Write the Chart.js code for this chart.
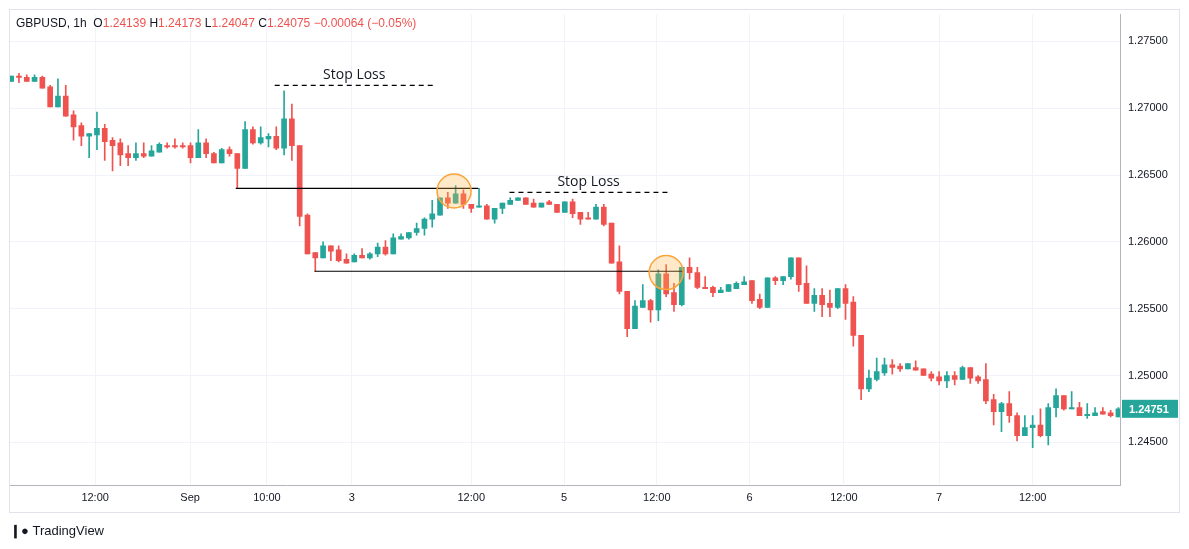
<!DOCTYPE html>
<html>
<head>
<meta charset="utf-8">
<script src="https://cdn.jsdelivr.net/npm/chart.js@4.4.0/dist/chart.umd.min.js"></script>
<style>
  body { margin: 0; background: #fff; font-family: "Liberation Sans", Arial, sans-serif; }
  #wrap { position: relative; width: 1189px; height: 549px; }
  #c { position: absolute; left: 0; top: 0; }
  #frame { position: absolute; left: 9px; top: 9px; width: 1171px; height: 504px; border: 1px solid #e0e3eb; box-sizing: border-box; }
  #legend { position: absolute; left: 16px; top: 16px; font-size: 12px; color: #131722; }
  #legend .v { color: #ef5350; }
  #logo { position: absolute; left: 10px; top: 523px; font-size: 13px; color: #131722; font-weight: bold; }
</style>
</head>
<body>
<div id="wrap">
  <div id="frame"></div>
  <canvas id="c" width="1189" height="549"></canvas>
  <div id="legend">GBPUSD, 1h&nbsp; O<span class="v">1.24139</span> H<span class="v">1.24173</span> L<span class="v">1.24047</span> C<span class="v">1.24075</span> <span class="v">&minus;0.00064 (&minus;0.05%)</span></div>
  <div id="logo">&#x2759;&#x25CF; <span style="font-weight:normal">TradingView</span></div>
</div>
<script>
// hourly candles, GBPUSD
const opens = [1.2720,1.2724,1.2723,1.2720,1.2723,1.2716,1.2701,1.2709,1.2695,1.2687,1.2679,1.2680,1.2685,1.2676,1.2674,1.2666,1.2663,1.2666,1.2664,1.2667,
  1.2672,1.2672,1.2672,1.2672,1.2663,1.2674,1.2666,1.2659,1.2669,1.2666,1.2655,1.2684,1.2674,1.2677,1.2679,1.2670,1.2692,1.2672,1.2620,1.2592,
  1.2588,1.2597,1.2594,1.2587,1.2585,1.2590,1.2588,1.2591,1.2596,1.2591,1.2602,1.2603,1.2607,1.2610,1.2617,1.2620,1.2633,1.2629,1.2636,1.2628,
  1.2626,1.2627,1.2617,1.2625,1.2628,1.2631,1.2633,1.2629,1.2626,1.2630,1.2628,1.2622,1.2630,1.2622,1.2618,1.2617,1.2626,1.2614,1.2585,1.2563,
  1.2535,1.2551,1.2556,1.2549,1.2576,1.2562,1.2553,1.2581,1.2577,1.2566,1.2566,1.2562,1.2563,1.2565,1.2568,1.2571,1.2557,1.2551,1.2573,1.2571,
  1.2574,1.2588,1.2569,1.2554,1.2560,1.2554,1.2551,1.2565,1.2555,1.2530,1.2490,1.2497,1.2502,1.2508,1.2507,1.2505,1.2506,1.2505,1.2501,1.2499,
  1.2496,1.2500,1.2497,1.2506,1.2499,1.2497,1.2482,1.2473,1.2479,1.2470,1.2455,1.2461,1.2463,1.2455,1.2476,1.2485,1.2475,1.2476,1.2470,1.2470,
  1.2473,1.2472,1.2469];
const highs = [1.2724,1.2726,1.2725,1.2725,1.2724,1.2717,1.2722,1.2717,1.2698,1.2689,1.2681,1.2697,1.2688,1.2678,1.2677,1.2672,1.2674,1.2674,1.2672,1.2674,
  1.2674,1.2677,1.2674,1.2674,1.2684,1.2677,1.2667,1.2670,1.2671,1.2666,1.2690,1.2686,1.2686,1.2681,1.2686,1.2713,1.2703,1.2672,1.2621,1.2592,
  1.2600,1.2597,1.2597,1.2591,1.2591,1.2595,1.2592,1.2599,1.2601,1.2606,1.2606,1.2607,1.2614,1.2618,1.2631,1.2633,1.2637,1.2642,1.2639,1.2628,
  1.2640,1.2628,1.2625,1.2629,1.2633,1.2633,1.2633,1.2632,1.2629,1.2631,1.2628,1.2630,1.2632,1.2622,1.2622,1.2628,1.2628,1.2614,1.2597,1.2563,
  1.2556,1.2568,1.2557,1.2579,1.2583,1.2569,1.2581,1.2588,1.2581,1.2574,1.2567,1.2566,1.2568,1.2570,1.2574,1.2571,1.2561,1.2573,1.2574,1.2574,
  1.2588,1.2588,1.2582,1.2565,1.2565,1.2564,1.2565,1.2568,1.2559,1.2530,1.2504,1.2513,1.2513,1.2512,1.2509,1.2509,1.2511,1.2505,1.2503,1.2503,
  1.2503,1.2503,1.2507,1.2506,1.2500,1.2509,1.2486,1.2480,1.2488,1.2472,1.2470,1.2470,1.2475,1.2479,1.2490,1.2485,1.2488,1.2480,1.2479,1.2476,
  1.2476,1.2474,1.2476];
const lows = [1.2720,1.2719,1.2720,1.2720,1.2715,1.2701,1.2701,1.2694,1.2676,1.2672,1.2663,1.2669,1.2661,1.2653,1.2657,1.2657,1.2661,1.2663,1.2664,1.2667,
  1.2670,1.2670,1.2670,1.2659,1.2663,1.2663,1.2659,1.2659,1.2664,1.2640,1.2655,1.2673,1.2673,1.2671,1.2669,1.2665,1.2661,1.2612,1.2591,1.2578,
  1.2588,1.2586,1.2585,1.2584,1.2585,1.2588,1.2587,1.2589,1.2590,1.2591,1.2602,1.2602,1.2605,1.2605,1.2611,1.2620,1.2625,1.2629,1.2625,1.2622,
  1.2626,1.2617,1.2614,1.2621,1.2628,1.2631,1.2628,1.2626,1.2626,1.2628,1.2622,1.2622,1.2618,1.2613,1.2617,1.2617,1.2612,1.2584,1.2561,1.2529,
  1.2535,1.2551,1.2540,1.2541,1.2559,1.2548,1.2552,1.2572,1.2565,1.2565,1.2559,1.2562,1.2563,1.2565,1.2568,1.2554,1.2550,1.2551,1.2568,1.2568,
  1.2572,1.2563,1.2554,1.2548,1.2544,1.2544,1.2550,1.2542,1.2522,1.2482,1.2488,1.2496,1.2500,1.2501,1.2503,1.2505,1.2504,1.2500,1.2496,1.2493,
  1.2491,1.2493,1.2497,1.2494,1.2494,1.2479,1.2463,1.2458,1.2465,1.2451,1.2455,1.2446,1.2454,1.2448,1.2469,1.2474,1.2475,1.2470,1.2468,1.2470,
  1.2471,1.2469,1.2469];
const closes = [1.2724,1.2723,1.2720,1.2723,1.2715,1.2701,1.2709,1.2694,1.2686,1.2679,1.2681,1.2685,1.2675,1.2672,1.2665,1.2663,1.2666,1.2664,1.2668,1.2673,
  1.2671,1.2671,1.2671,1.2663,1.2674,1.2666,1.2659,1.2669,1.2666,1.2655,1.2684,1.2674,1.2678,1.2679,1.2670,1.2692,1.2672,1.2619,1.2591,1.2588,
  1.2597,1.2593,1.2586,1.2584,1.2590,1.2588,1.2591,1.2596,1.2591,1.2603,1.2604,1.2607,1.2610,1.2617,1.2621,1.2633,1.2629,1.2636,1.2628,1.2625,
  1.2627,1.2617,1.2625,1.2629,1.2631,1.2633,1.2628,1.2626,1.2629,1.2628,1.2622,1.2630,1.2621,1.2617,1.2617,1.2626,1.2613,1.2584,1.2563,1.2535,
  1.2552,1.2556,1.2549,1.2576,1.2561,1.2553,1.2581,1.2577,1.2566,1.2565,1.2562,1.2564,1.2568,1.2569,1.2570,1.2556,1.2551,1.2573,1.2571,1.2574,
  1.2588,1.2568,1.2554,1.2560,1.2553,1.2551,1.2565,1.2554,1.2530,1.2490,1.2498,1.2503,1.2508,1.2506,1.2505,1.2509,1.2504,1.2500,1.2498,1.2496,
  1.2500,1.2497,1.2506,1.2498,1.2496,1.2481,1.2473,1.2479,1.2470,1.2455,1.2461,1.2463,1.2455,1.2476,1.2485,1.2475,1.2476,1.2470,1.2471,1.2472,
  1.2471,1.2470,1.24751];

// time axis labels, placed at candle index
const timeTickPos = [10.77, 22.95, 32.8, 43.7, 59.0, 70.9, 82.8, 94.7, 106.8, 119.0, 131.0];
const timeTickLabels = ["12:00", "Sep", "10:00", "3", "12:00", "5", "12:00", "6", "12:00", "7", "12:00"];
const priceTicks = [1.245, 1.250, 1.255, 1.260, 1.265, 1.270, 1.275];

// drawings: [x1 index, x2 index, price]
const levelLines = [[28.8, 59.9, 1.2640], [38.9, 86.2, 1.2578]];
const stopLines = [[33.8, 54.2, 1.2717, "Stop Loss"], [63.9, 84.2, 1.2637, "Stop Loss"]];
const circles = [[56.8, 1.2638], [84.0, 1.2577]];

const UP = "#26a69a", DOWN = "#ef5350";
const idx = opens.map((_, i) => i);
const cols = idx.map(i => closes[i] >= opens[i] ? UP : DOWN);

const drawings = {
  id: "drawings",
  afterDatasetsDraw(chart) {
    const { ctx, scales: { x, y } } = chart;
    ctx.save();
    ctx.strokeStyle = "#000"; ctx.lineWidth = 1.2;
    levelLines.forEach(([a, b, p]) => {
      ctx.beginPath(); ctx.moveTo(x.getPixelForValue(a), y.getPixelForValue(p));
      ctx.lineTo(x.getPixelForValue(b), y.getPixelForValue(p)); ctx.stroke();
    });
    ctx.setLineDash([5, 4]);
    ctx.font = "14px 'Open Sans', sans-serif"; ctx.fillStyle = "#131722";
    ctx.textAlign = "center";
    stopLines.forEach(([a, b, p, t]) => {
      const py = y.getPixelForValue(p);
      ctx.beginPath(); ctx.moveTo(x.getPixelForValue(a), py);
      ctx.lineTo(x.getPixelForValue(b), py); ctx.stroke();
      ctx.fillText(t, (x.getPixelForValue(a) + x.getPixelForValue(b)) / 2, py - 6);
    });
    ctx.setLineDash([]);
    circles.forEach(([i, p]) => {
      ctx.beginPath();
      ctx.arc(x.getPixelForValue(i), y.getPixelForValue(p), 17, 0, Math.PI * 2);
      ctx.fillStyle = "rgba(255,183,77,0.3)"; ctx.fill();
      ctx.strokeStyle = "#f9a53a"; ctx.lineWidth = 1.5; ctx.stroke();
    });
    // last price label
    const last = closes[closes.length - 1];
    const ly = y.getPixelForValue(last);
    ctx.fillStyle = UP;
    ctx.fillRect(x.right + 2, ly - 9, 56, 18);
    ctx.fillStyle = "#fff"; ctx.font = "bold 11px 'Liberation Sans', sans-serif";
    ctx.textAlign = "left"; ctx.textBaseline = "middle";
    ctx.fillText(last.toFixed(5), x.right + 9, ly + 1);
    ctx.restore();
  }
};

new Chart(document.getElementById("c"), {
  type: "bar",
  data: {
    datasets: [
      {
        label: "wick",
        data: idx.map(i => ({ x: i, y: [lows[i], highs[i]] })),
        backgroundColor: cols,
        barThickness: 1,
        grouped: false,
        minBarLength: 1
      },
      {
        label: "body",
        data: idx.map(i => ({ x: i, y: [opens[i], closes[i]] })),
        backgroundColor: cols,
        barThickness: 5,
        grouped: false,
        minBarLength: 1
      }
    ]
  },
  options: {
    responsive: false,
    animation: false,
    layout: { padding: { left: 10, top: 10, right: 9, bottom: 36 } },
    plugins: { legend: { display: false }, tooltip: { enabled: false } },
    scales: {
      x: {
        type: "linear",
        offset: false,
        min: -0.15,
        max: 142.2,
        afterFit(s) { s.height = 28; },
        afterBuildTicks(s) { s.ticks = timeTickPos.map(v => ({ value: v })); },
        ticks: {
          autoSkip: false, maxRotation: 0, padding: 6,
          color: "#131722", font: { size: 11, family: "'Liberation Sans', sans-serif" },
          callback: (v, i) => timeTickLabels[i]
        },
        grid: { color: "#f0f3fa", offset: false, drawTicks: false },
        border: { color: "#b2b5be" }
      },
      y: {
        position: "right",
        min: 1.24181,
        max: 1.27700,
        afterFit(s) { s.width = 60; },
        afterBuildTicks(s) { s.ticks = priceTicks.map(v => ({ value: v })); },
        ticks: {
          color: "#131722", padding: 8, crossAlign: "near",
          font: { size: 11, family: "'Liberation Sans', sans-serif" },
          callback: v => v.toFixed(5)
        },
        grid: { color: "#f0f3fa", drawTicks: false },
        border: { color: "#b2b5be" }
      }
    }
  },
  plugins: [drawings]
});
</script>
</body>
</html>
